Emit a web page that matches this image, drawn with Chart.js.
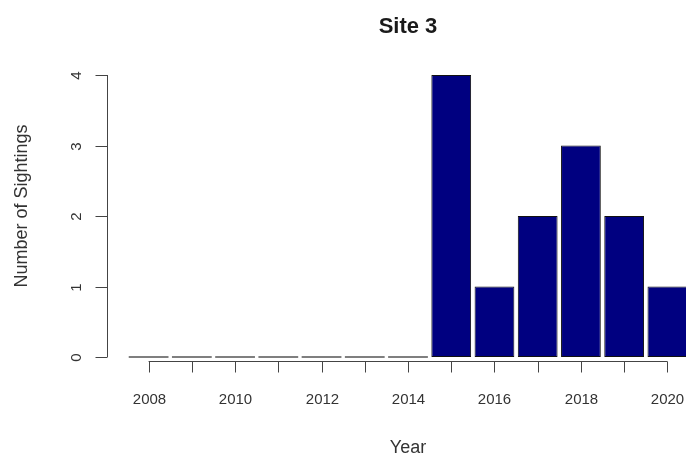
<!DOCTYPE html>
<html>
<head>
<meta charset="utf-8">
<script src="https://cdn.jsdelivr.net/npm/chart.js@4.4.0/dist/chart.umd.min.js"></script>
<style>
	html, body { margin: 0; padding: 0; background: #ffffff; overflow: hidden; }
	#wrap { width: 700px; height: 459px; position: relative; }
</style>
</head>
<body>
<div id="wrap"><canvas id="site_canvas"></canvas></div>
<script>
	'use strict';

	// data
	const years		=	['2008', '2009', '2010', '2011', '2012', '2013', '2014', '2015', '2016', '2017', '2018', '2019', '2020'];
	const sightings	=	[0, 0, 0, 0, 0, 0, 0, 4, 1, 2, 3, 2, 1];
	const xTickLabels	=	['2008', '2010', '2012', '2014', '2016', '2018', '2020'];
	const yTicks	=	[0, 1, 2, 3, 4];
	const chartTitle	=	'Site 3';
	const xTitle	=	'Year';
	const yTitle	=	'Number of Sightings';

	// R style axes, drawn from the chart's own scales
	const rAxes = {
		id: 'rAxes',
		afterDatasetsDraw(chart) {
			const ctx	=	chart.ctx;
			const area	=	chart.chartArea;
			const xs	=	chart.scales.x;
			const ys	=	chart.scales.y;
			const meta	=	chart.getDatasetMeta(0);

			ctx.save();

			// zero height bars show as a flat line
			ctx.strokeStyle = '#555555';
			ctx.lineWidth = 1.5;
			meta.data.forEach((bar, i) => {
				if (sightings[i] !== 0) return;
				const y0 = ys.getPixelForValue(0);
				ctx.beginPath();
				ctx.moveTo(bar.x - bar.width / 2, y0);
				ctx.lineTo(bar.x + bar.width / 2, y0);
				ctx.stroke();
			});

			ctx.strokeStyle = '#444444';
			ctx.lineWidth = 1;

			// y axis
			const axX = Math.round(area.left - 20) + 0.5;
			ctx.beginPath();
			ctx.moveTo(axX, ys.getPixelForValue(yTicks[0]));
			ctx.lineTo(axX, ys.getPixelForValue(yTicks[yTicks.length - 1]));
			ctx.stroke();
			ctx.fillStyle = '#333333';
			ctx.font = '15px "Liberation Sans", Arial, sans-serif';
			ctx.textAlign = 'center';
			ctx.textBaseline = 'middle';
			yTicks.forEach(v => {
				const py = Math.round(ys.getPixelForValue(v)) + 0.5;
				ctx.beginPath();
				ctx.moveTo(axX, py);
				ctx.lineTo(axX - 12, py);
				ctx.stroke();
				ctx.save();
				ctx.translate(axX - 31, py);
				ctx.rotate(-Math.PI / 2);
				ctx.fillText(String(v), 0, 0);
				ctx.restore();
			});

			// x axis
			const axY = Math.round(area.bottom + 4) + 0.5;
			const first = xs.getPixelForValue(0);
			const last = xs.getPixelForValue(years.length - 1);
			ctx.beginPath();
			ctx.moveTo(first, axY);
			ctx.lineTo(last, axY);
			ctx.stroke();
			years.forEach((yr, i) => {
				const px = Math.round(xs.getPixelForValue(i)) + 0.5;
				ctx.beginPath();
				ctx.moveTo(px, axY);
				ctx.lineTo(px, axY + 11);
				ctx.stroke();
				if (xTickLabels.includes(yr)) {
					ctx.fillText(yr, px, axY + 38);
				}
			});

			// titles
			const midX = (area.left + area.right) / 2;
			const midY = (area.top + area.bottom) / 2;
			ctx.fillStyle = '#1a1a1a';
			ctx.font = 'bold 22px "Liberation Sans", Arial, sans-serif';
			ctx.fillText(chartTitle, midX, 27);
			ctx.fillStyle = '#333333';
			ctx.font = '18px "Liberation Sans", Arial, sans-serif';
			ctx.fillText(xTitle, midX, 448);
			ctx.save();
			ctx.translate(22, midY - 10);
			ctx.rotate(-Math.PI / 2);
			ctx.fillText(yTitle, 0, 0);
			ctx.restore();

			ctx.restore();
		}
	};

	const ctx = document.getElementById('site_canvas').getContext('2d');

	const data = {
		labels: years,
		datasets: [{
			label: 'Sightings',
			data: sightings,
			backgroundColor: '#000080',
			borderColor: '#111111',
			borderWidth: 1,
			borderSkipped: false,
			categoryPercentage: 1,
			barPercentage: 0.92
		}]
	};

	const options = {
		responsive: false,
		animation: false,
		layout: {
			padding: { left: 127, right: 11, top: 75, bottom: 102 }
		},
		plugins: {
			legend: { display: false },
			tooltip: { enabled: false },
			title: { display: false }
		},
		scales: {
			x: {
				type: 'category',
				display: false,
				offset: true
			},
			y: {
				display: false,
				min: 0,
				max: 4
			}
		}
	};

	const canvas = document.getElementById('site_canvas');
	canvas.width = 700;
	canvas.height = 459;

	new Chart(ctx, {
		type: 'bar',
		data: data,
		options: options,
		plugins: [rAxes]
	});
</script>
</body>
</html>
